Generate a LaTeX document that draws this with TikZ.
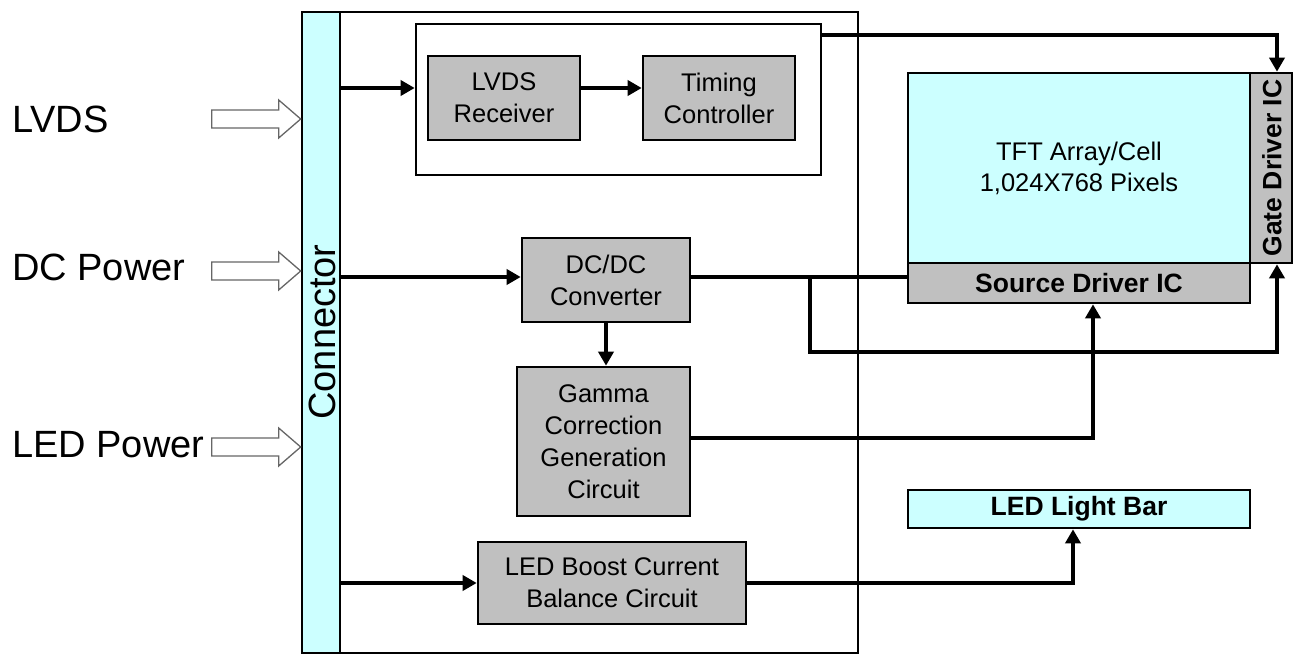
\documentclass[tikz,border=0pt]{standalone}
\usepackage{fontspec}
\setmainfont{Liberation Sans}
\usetikzlibrary{arrows.meta}
\definecolor{cy}{HTML}{CCFFFF}
\definecolor{gr}{HTML}{C0C0C0}
\tikzset{
  harrow/.pic={\draw[line width=1.3pt, draw=black!60, fill=white]
     (-89,-9) -- (-22,-9) -- (-22,-19) -- (0,0) -- (-22,19) -- (-22,9) -- (-89,9) -- cycle;},
  blk/.style={draw, line width=2.6pt, fill=gr, inner sep=0pt, align=center,
     font=\fontsize{25.5}{32}\selectfont},
  frame/.style={draw, line width=2.6pt, inner sep=0pt},
  bigtxt/.style={font=\fontsize{38}{40}\selectfont, anchor=base west, inner sep=0pt},
  bold/.style={font=\bfseries\fontsize{26.5}{30}\selectfont},
  arr/.style={line width=3.6pt, -{Triangle[length=14pt,width=15pt]}},
  wire/.style={line width=3.6pt}
}
\begin{document}
\begin{tikzpicture}[x=1pt,y=-1pt]
\useasboundingbox (0,0) rectangle (1294,655);
% input labels
\node[bigtxt] (lvdsin) at (12,133) {LVDS};
\node[bigtxt] (dcin) at (12,280) {DC Power};
\node[bigtxt] (ledin) at (12,457) {LED Power};
% outer frame and connector
\node[frame, minimum width=556, minimum height=641] (outer) at (580,332.5) {};
\node[frame, fill=cy, minimum width=38, minimum height=641] (conn) at (321,332.5) {};
\node[rotate=90, font=\fontsize{38}{40}\selectfont, inner sep=0pt] (connlbl) at (322,332) {Connector};
% hollow input arrows
\coordinate (y1) at (0,119);
\coordinate (y2) at (0,271);
\coordinate (y3) at (0,447);
\pic at (conn.west |- y1) {harrow};
\pic at (conn.west |- y2) {harrow};
\pic at (conn.west |- y3) {harrow};
% LVDS group
\node[frame, minimum width=405, minimum height=151] (lvdsgrp) at (618.5,99.5) {};
\node[blk, minimum width=152, minimum height=84] (rx) at (504,98) {LVDS\\Receiver};
\node[blk, minimum width=152, minimum height=84] (tcon) at (719,98) {Timing\\Controller};
% panel
\node[frame, fill=cy, minimum width=342, minimum height=190, align=center,
      font=\fontsize{25.5}{31}\selectfont] (tft) at (1079,168) {TFT Array/Cell\\1,024X768 Pixels};
\node[frame, fill=gr, minimum width=42, minimum height=190] (gate) at (1271,168) {};
\node[rotate=90, bold, inner sep=0pt] (gatelbl) at (1272,168) {Gate Driver IC};
\node[frame, fill=gr, minimum width=342, minimum height=40, bold] (src) at (1079,283) {Source Driver IC};
% power blocks
\node[blk, minimum width=168, minimum height=84] (dcdc) at (606,280) {DC/DC\\Converter};
\node[blk, minimum width=173, minimum height=149] (gamma) at (603.5,441.5) {Gamma\\Correction\\Generation\\Circuit};
\node[blk, minimum width=268, minimum height=82] (boost) at (612,583) {LED Boost Current\\Balance Circuit};
\node[frame, fill=cy, minimum width=342, minimum height=38, bold] (ledbar) at (1079,509) {LED Light Bar};
% helper coordinates
\coordinate (ya) at (0,88);
\coordinate (yt) at (0,35);
\coordinate (xg) at (1277,0);
\coordinate (xs) at (1093,0);
\coordinate (xl) at (1073,0);
\coordinate (br) at (810,277);
\coordinate (yb) at (0,352);
\coordinate (yd) at (0,277);
\coordinate (ygm) at (0,438);
% connectors
\draw[arr] (conn.east |- ya) -- (lvdsgrp.west |- ya);
\draw[arr] (rx.east |- ya) -- (tcon.west |- ya);
\draw[arr] (lvdsgrp.east |- yt) -| (gate.north -| xg);
\draw[arr] (conn.east |- yd) -- (dcdc.west |- yd);
\draw[arr] (dcdc.south) -- (dcdc.south |- gamma.north);
\draw[wire] (dcdc.east |- yd) -- (src.west |- yd);
\draw[arr] (br) -- (br |- yb) -| (gate.south -| xg);
\draw[arr] (gamma.east |- ygm) -| (src.south -| xs);
\draw[arr] (conn.east |- boost.west) -- (boost.west);
\draw[arr] (boost.east) -| (ledbar.south -| xl);
\end{tikzpicture}
\end{document}
